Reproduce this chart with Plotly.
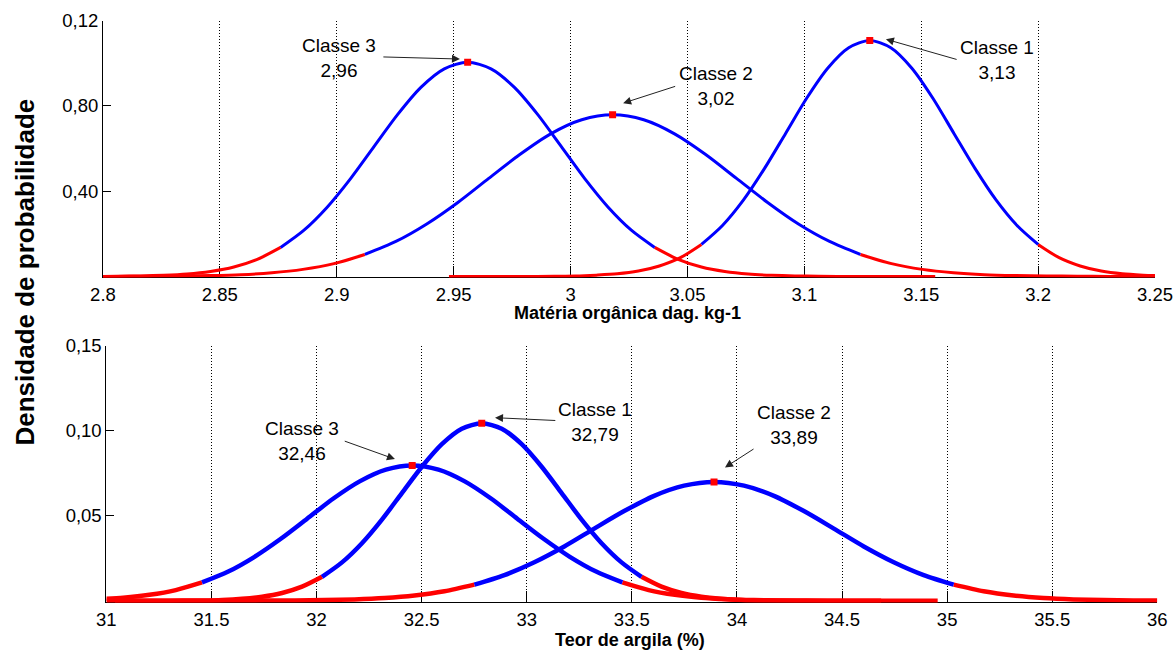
import plotly.graph_objects as go

# ---------------- Data: top panel (Matéria orgânica) ----------------
mo_x_c1 = [2.948, 2.984, 2.993, 3.002, 3.011, 3.020, 3.029, 3.038, 3.047, 3.056, 3.065, 3.074,
           3.083, 3.092, 3.101, 3.110, 3.119, 3.128, 3.137, 3.146, 3.155, 3.164, 3.173, 3.182,
           3.191, 3.200, 3.209, 3.218, 3.227, 3.236, 3.245, 3.250]
mo_y_c1 = [0.0000, 0.0000, 0.0001, 0.0002, 0.0006, 0.0012, 0.0025, 0.0049, 0.0088, 0.0150, 0.0239, 0.0359,
           0.0507, 0.0671, 0.0836, 0.0977, 0.1073, 0.1107, 0.1073, 0.0977, 0.0836, 0.0671, 0.0507, 0.0359,
           0.0239, 0.0150, 0.0088, 0.0049, 0.0025, 0.0012, 0.0006, 0.0004]

mo_x_c2 = [2.800, 2.806, 2.8193, 2.8325, 2.8458, 2.859, 2.8723, 2.8855, 2.8988, 2.912,
           2.9253, 2.9385, 2.9518, 2.965, 2.9783, 2.9915, 3.0048, 3.018,
           3.0313, 3.0445, 3.0578, 3.071, 3.0843, 3.0975, 3.1108, 3.124,
           3.1373, 3.1505, 3.1638, 3.177, 3.1903, 3.2035, 3.2168, 3.230, 3.2433, 3.250]
mo_y_c2 = [0.0000, 0.0000, 0.0001, 0.0002, 0.0004, 0.0008, 0.0017, 0.0033, 0.0060, 0.0103,
           0.0164, 0.0246, 0.0347, 0.0460, 0.0572, 0.0669, 0.0735, 0.0758,
           0.0735, 0.0669, 0.0572, 0.0460, 0.0347, 0.0246, 0.0164, 0.0103,
           0.0060, 0.0033, 0.0017, 0.0008, 0.0004, 0.0002, 0.0001, 0.0000, 0.0000, 0.0000]

mo_x_c3 = [2.800, 2.806, 2.816, 2.826, 2.836, 2.846, 2.856, 2.866, 2.876,
           2.886, 2.896, 2.906, 2.916, 2.926, 2.936, 2.946, 2.956,
           2.966, 2.976, 2.986, 2.996, 3.006, 3.016, 3.026, 3.036,
           3.046, 3.056, 3.066, 3.076, 3.086, 3.096, 3.106, 3.116, 3.156]
mo_y_c3 = [0.0000, 0.0001, 0.0002, 0.0005, 0.0011, 0.0023, 0.0044, 0.0080, 0.0136,
           0.0217, 0.0326, 0.0460, 0.0610, 0.0759, 0.0887, 0.0974, 0.1005,
           0.0974, 0.0887, 0.0759, 0.0610, 0.0460, 0.0326, 0.0217, 0.0136,
           0.0080, 0.0044, 0.0023, 0.0011, 0.0005, 0.0002, 0.0001, 0.0000, 0.0000]

mo_blue_lo = [3.056, 2.912, 2.876]
mo_blue_hi = [3.200, 3.124, 3.036]
mo_labels = ["Classe 1<br>3,13", "Classe 2<br>3,02", "Classe 3<br>2,96"]
mo_xticks = [2.8, 2.85, 2.9, 2.95, 3.0, 3.05, 3.1, 3.15, 3.2, 3.25]
mo_xticktext = ["2.8", "2.85", "2.9", "2.95", "3", "3.05", "3.1", "3.15", "3.2", "3.25"]
mo_yticks = [0.04, 0.08, 0.12]
mo_yticktext = ["0,40", "0,80", "0,12"]

# ---------------- Data: bottom panel (Teor de argila) ----------------
ar_x_c1 = [31.000, 31.266, 31.361, 31.456, 31.551, 31.646, 31.741, 31.836, 31.931, 32.026,
           32.121, 32.216, 32.311, 32.406, 32.501, 32.596, 32.691, 32.786,
           32.881, 32.976, 33.071, 33.166, 33.261, 33.356, 33.451, 33.546,
           33.641, 33.736, 33.831, 33.926, 34.021, 34.116, 34.211, 34.306, 34.686]
ar_y_c1 = [0.0000, 0.0000, 0.0001, 0.0002, 0.0005, 0.0012, 0.0024, 0.0046, 0.0083, 0.0141,
           0.0226, 0.0339, 0.0478, 0.0634, 0.0789, 0.0922, 0.1013, 0.1045,
           0.1013, 0.0922, 0.0789, 0.0634, 0.0478, 0.0339, 0.0226, 0.0141,
           0.0083, 0.0046, 0.0024, 0.0012, 0.0005, 0.0002, 0.0001, 0.0000, 0.0000]

ar_x_c2 = [31.041, 31.611, 31.7535, 31.896, 32.0385, 32.181, 32.3235, 32.466, 32.6085, 32.751,
           32.8935, 33.036, 33.1785, 33.321, 33.4635, 33.606, 33.7485, 33.891,
           34.0335, 34.176, 34.3185, 34.461, 34.6035, 34.746, 34.8885, 35.031,
           35.1735, 35.316, 35.4585, 35.601, 35.7435, 35.886, 36.000]
ar_y_c2 = [0.0000, 0.0000, 0.0001, 0.0002, 0.0004, 0.0008, 0.0016, 0.0031, 0.0056, 0.0095,
           0.0151, 0.0227, 0.0320, 0.0425, 0.0528, 0.0618, 0.0678, 0.0700,
           0.0678, 0.0618, 0.0528, 0.0425, 0.0320, 0.0227, 0.0151, 0.0095,
           0.0056, 0.0031, 0.0016, 0.0008, 0.0004, 0.0002, 0.0001]

ar_x_c3 = [31.000, 31.080, 31.205, 31.330, 31.455,
           31.580, 31.705, 31.830, 31.955, 32.080, 32.205, 32.330, 32.455,
           32.580, 32.705, 32.830, 32.955, 33.080, 33.205, 33.330, 33.455,
           33.580, 33.705, 33.830, 33.955, 34.080, 34.205, 34.330, 34.455, 34.955]
ar_y_c3 = [0.0012, 0.0018, 0.0035, 0.0063, 0.0108,
           0.0172, 0.0259, 0.0365, 0.0483, 0.0602, 0.0703, 0.0772, 0.0797,
           0.0772, 0.0703, 0.0602, 0.0483, 0.0365, 0.0259, 0.0172, 0.0108,
           0.0063, 0.0035, 0.0018, 0.0009, 0.0004, 0.0002, 0.0001, 0.0000, 0.0000]

ar_blue_lo = [32.026, 32.751, 31.455]
ar_blue_hi = [33.546, 35.031, 33.455]
ar_labels = ["Classe 1<br>32,79", "Classe 2<br>33,89", "Classe 3<br>32,46"]
ar_xticks = [31, 31.5, 32, 32.5, 33, 33.5, 34, 34.5, 35, 35.5, 36]
ar_xticktext = ["31", "31.5", "32", "32.5", "33", "33.5", "34", "34.5", "35", "35.5", "36"]
ar_yticks = [0.05, 0.10, 0.15]
ar_yticktext = ["0,05", "0,10", "0,15"]

RED = "#ff0000"
BLUE = "#0000ff"
FONT = "Liberation Sans, Arial, Helvetica, sans-serif"

fig = go.Figure()


def add_curve(x, y, lo, hi, xa, ya, width):
    eps = 1e-9
    left = [(a, b) for a, b in zip(x, y) if a <= lo + eps]
    mid = [(a, b) for a, b in zip(x, y) if lo - eps <= a <= hi + eps]
    right = [(a, b) for a, b in zip(x, y) if a >= hi - eps]
    for seg, col in ((left, RED), (right, RED), (mid, BLUE)):
        if len(seg) < 2:
            continue
        fig.add_trace(go.Scatter(
            x=[p[0] for p in seg], y=[p[1] for p in seg], mode="lines",
            line=dict(color=col, width=width, shape="spline", smoothing=0.8),
            xaxis=xa, yaxis=ya, showlegend=False, hoverinfo="skip"))


def add_peaks(curves, xa, ya):
    px, py = [], []
    for x, y in curves:
        i = max(range(len(y)), key=lambda k: y[k])
        px.append(x[i])
        py.append(y[i])
    fig.add_trace(go.Scatter(x=px, y=py, mode="markers",
                             marker=dict(symbol="square", size=7, color=RED),
                             xaxis=xa, yaxis=ya, showlegend=False, hoverinfo="skip"))


mo_curves = [(mo_x_c1, mo_y_c1), (mo_x_c2, mo_y_c2), (mo_x_c3, mo_y_c3)]
ar_curves = [(ar_x_c1, ar_y_c1), (ar_x_c2, ar_y_c2), (ar_x_c3, ar_y_c3)]

for (x, y), lo, hi in zip(mo_curves, mo_blue_lo, mo_blue_hi):
    add_curve(x, y, lo, hi, "x", "y", 3)
for (x, y), lo, hi in zip(ar_curves, ar_blue_lo, ar_blue_hi):
    add_curve(x, y, lo, hi, "x2", "y2", 4.5)
add_peaks(mo_curves, "x", "y")
add_peaks(ar_curves, "x2", "y2")

axis_common = dict(showline=True, linecolor="black", linewidth=1, mirror=False,
                   ticks="inside", tickcolor="black", tickwidth=1, zeroline=False,
                   tickfont=dict(family=FONT, size=18.5, color="black"),
                   layer="below traces", automargin=False)
xgrid = dict(showgrid=True, gridcolor="black", gridwidth=1, griddash="1px,2px")

fig.update_layout(
    template="none",
    width=1174, height=650,
    margin=dict(l=0, r=0, t=0, b=0, pad=0),
    paper_bgcolor="white", plot_bgcolor="white",
    font=dict(family=FONT, color="black"),
    xaxis=dict(domain=[0.0877, 0.9838], range=[2.8, 3.25], tickmode="array",
               tickvals=mo_xticks, ticktext=mo_xticktext, ticklen=11, anchor="y",
               **xgrid, **axis_common),
    yaxis=dict(domain=[0.5731, 0.9682], range=[-0.0005, 0.12], tickmode="array",
               tickvals=mo_yticks, ticktext=mo_yticktext, ticklen=8, showgrid=False,
               anchor="x", **axis_common),
    xaxis2=dict(domain=[0.0906, 0.9858], range=[31, 36], tickmode="array",
                tickvals=ar_xticks, ticktext=ar_xticktext, ticklen=11, anchor="y2",
                **xgrid, **axis_common),
    yaxis2=dict(domain=[0.0731, 0.4677], range=[-0.001, 0.15], tickmode="array",
                tickvals=ar_yticks, ticktext=ar_yticktext, ticklen=8, showgrid=False,
                anchor="x2", **axis_common),
)

ann_font = dict(family=FONT, size=19, color="black")
arrow_style = dict(showarrow=True, arrowhead=2, arrowsize=1.6, arrowwidth=1, arrowcolor="#222222")

# text positions (x, y) and arrows (tail -> head) for each class label
mo_text_pos = [(3.1824, 0.1016), (3.0622, 0.0894), (2.901, 0.1026)]
mo_arrow_tail = [(3.1658, 0.1016), (3.0454, 0.0894), (2.9193, 0.1030)]
mo_arrow_head = [(3.1349, 0.1113), (3.0225, 0.0813), (2.9527, 0.1020)]
ar_text_pos = [(33.325, 0.1053), (34.271, 0.1035), (31.933, 0.0942)]
ar_arrow_tail = [(33.143, 0.1061), (34.086, 0.0899), (32.127, 0.0943)]
ar_arrow_head = [(32.849, 0.1078), (33.943, 0.0785), (32.373, 0.0834)]

anns = []
for labels, tp, tl, hd, xr, yr in ((mo_labels, mo_text_pos, mo_arrow_tail, mo_arrow_head, "x", "y"),
                                   (ar_labels, ar_text_pos, ar_arrow_tail, ar_arrow_head, "x2", "y2")):
    for lab, p, t, h in zip(labels, tp, tl, hd):
        anns.append(dict(x=p[0], y=p[1], xref=xr, yref=yr, text=lab, showarrow=False,
                         font=ann_font, align="center", xanchor="center", yanchor="middle"))
        anns.append(dict(x=h[0], y=h[1], xref=xr, yref=yr, ax=t[0], ay=t[1], axref=xr, ayref=yr,
                         text="", **arrow_style))

title_font = dict(family=FONT, size=18, color="black", weight="bold")
anns.append(dict(x=627.5 / 1174, y=(650 - 313) / 650, xref="paper", yref="paper",
                 text="Matéria orgânica dag. kg-1", showarrow=False, font=title_font,
                 xanchor="center", yanchor="middle"))
anns.append(dict(x=630 / 1174, y=(650 - 640) / 650, xref="paper", yref="paper",
                 text="Teor de argila (%)", showarrow=False, font=title_font,
                 xanchor="center", yanchor="middle"))
anns.append(dict(x=25 / 1174, y=(650 - 272.5) / 650, xref="paper", yref="paper",
                 text="Densidade de probabilidade", showarrow=False, textangle=-90,
                 font=dict(family=FONT, size=26, color="black", weight="bold"),
                 xanchor="center", yanchor="middle"))
fig.update_layout(annotations=anns)

fig.write_html("out.html")
